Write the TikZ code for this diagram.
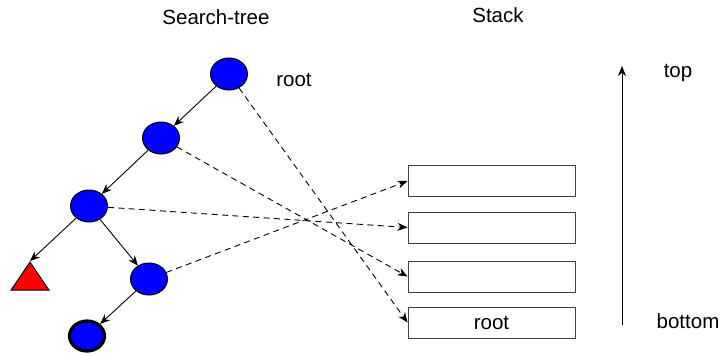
\documentclass[tikz,border=0pt]{standalone}
\usepackage{fontspec}
\setmainfont{Liberation Sans}
\usetikzlibrary{arrows.meta,shapes.geometric}

\begin{document}
\begin{tikzpicture}[
  x=0.5pt,y=-0.5pt,
  every node/.style={inner sep=1pt,font=\fontsize{10.25}{12}\selectfont},
  tnode/.style={ellipse,fill=blue,draw=black,line width=0.5pt,minimum width=18.5pt,minimum height=16pt,inner sep=0pt},
  tgoal/.style={tnode,line width=1.6pt,minimum width=17.5pt,minimum height=15pt},
  tfail/.style={isosceles triangle,isosceles triangle apex angle=68,shape border rotate=90,fill=red,draw=black,line width=0.5pt,minimum height=14pt,inner sep=0pt},
  cell/.style={rectangle,draw=black!75,line width=0.5pt,minimum width=83.5pt,minimum height=15.5pt,inner sep=0pt},
  arr/.style={-{Stealth[length=5pt,width=4pt]},line width=0.45pt},
  ptr/.style={-{Stealth[length=5pt,width=4pt]},line width=0.45pt,dash pattern=on 3pt off 2.2pt}
]
\useasboundingbox (0,0) rectangle (722,355);
% ================= titles =================
\node (ttree) at (216,17) {Search-tree};
\node (tstack) at (498,15) {Stack};
% ================= search tree =================
\node[tnode] (n1) at (229,74) {};
\node (lroot) at (294,80) {root};
\node[tnode] (n2) at (161,138) {};
\node[tnode] (n3) at (89,206) {};
\node[tfail] (f1) at (30,280) {};
\node[tnode] (n4) at (149,279) {};
\node[tgoal] (n5) at (87,336) {};
\draw[arr] (n1) -- (n2);
\draw[arr] (n2) -- (n3);
\draw[arr] (n3) -- (f1.apex);
\draw[arr] (n3) -- (n4);
\draw[arr] (n4) -- (n5);
% ================= stack =================
\node[cell] (s1) at (491.5,181) {};
\node[cell] (s2) at (491.5,227.5) {};
\node[cell] (s3) at (491.5,276.5) {};
\node[cell] (s4) at (491.5,322.5) {root};
% ================= pointers =================
\draw[ptr] (n1) -- (s4.west);
\draw[ptr] (n2) -- (s3.west);
\draw[ptr] (n3) -- (s2.west);
\draw[ptr] (n4) -- (s1.west);
% ================= direction =================
\coordinate (dbot) at (622,325);
\coordinate (dtop) at (622,66);
\draw[arr] (dbot) -- (dtop);
\node (ltop) at (678,73) {top};
\node (lbot) at (688,321) {bottom};
\end{tikzpicture}
\end{document}
